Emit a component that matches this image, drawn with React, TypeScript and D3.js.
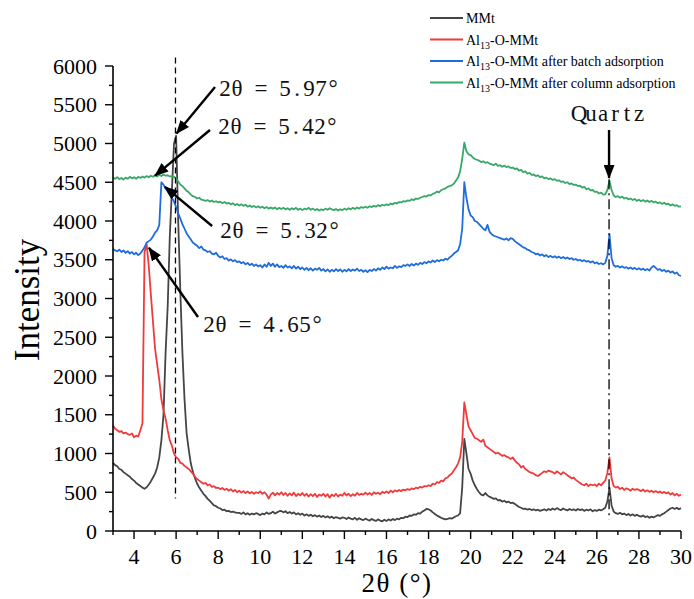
import { Component } from 'react';
import * as d3 from 'd3';

// 2θ sampling grid, 3° to 30° in 0.1° steps
const two_theta = d3.range(271).map((i) => Math.round((3 + i * 0.1) * 10) / 10);

// intensities, one row per degree
const mmt = [
    880, 850, 835, 800, 790, 760, 740, 720, 700, 670,
    650, 620, 600, 580, 560, 545, 565, 600, 640, 690,
    740, 820, 950, 1170, 1500, 2300, 2900, 3800, 4400, 5000,
    5100, 4000, 3100, 2300, 1700, 1260, 1050, 870, 760, 680,
    610, 560, 520, 480, 450, 415, 390, 360, 330, 320,
    300, 290, 270, 275, 255, 260, 245, 250, 240, 235,
    235, 220, 240, 215, 230, 210, 225, 215, 230, 220,
    205, 225, 215, 240, 220, 230, 250, 225, 240, 255,
    260, 240, 255, 230, 245, 225, 240, 215, 230, 210,
    225, 200, 215, 195, 210, 190, 205, 185, 200, 180,
    195, 175, 190, 170, 185, 165, 180, 170, 160, 175,
    170, 155, 175, 160, 150, 170, 145, 165, 150, 140,
    160, 145, 135, 155, 140, 130, 150, 135, 125, 145,
    130, 150, 135, 155, 140, 160, 150, 170, 165, 185,
    180, 200, 195, 215, 210, 230, 225, 250, 265, 285,
    280, 265, 240, 220, 200, 185, 170, 160, 150, 155,
    165, 160, 175, 190, 200, 230, 560, 1190, 1000, 800,
    740, 650, 590, 540, 500, 470, 460, 490, 460, 440,
    430, 415, 420, 395, 400, 380, 390, 370, 380, 360,
    365, 350, 330, 310, 300, 285, 290, 275, 285, 270,
    280, 265, 275, 260, 270, 280, 265, 285, 270, 290,
    275, 295, 280, 270, 290, 275, 265, 285, 270, 280,
    265, 285, 270, 280, 260, 275, 265, 280, 255, 270,
    260, 275, 265, 280, 300, 380, 560, 330, 250, 230,
    220, 235, 215, 225, 205, 220, 200, 215, 195, 210,
    195, 185, 200, 180, 190, 170, 185, 175, 190, 205,
    195, 215, 230, 250, 270, 290, 300, 285, 300, 280,
    295
];

const al13_o_mmt = [
    1360, 1320, 1300, 1280, 1290, 1260, 1270, 1250, 1240, 1260,
    1210, 1230, 1220, 1300, 1390, 3600, 3700, 3420, 3050, 2700,
    2350, 2150, 1950, 1700, 1560, 1450, 1300, 1170, 1100, 1000,
    950, 930, 880, 870, 840, 820, 800, 770, 740, 700,
    670, 650, 630, 610, 620, 590, 600, 570, 580, 555,
    560, 540, 555, 530, 545, 520, 540, 510, 530, 500,
    520, 495, 515, 490, 510, 485, 505, 480, 500, 490,
    510, 480, 500, 470, 420, 470, 495, 460, 490, 470,
    500, 465, 490, 455, 485, 460, 495, 450, 480, 460,
    490, 455, 480, 445, 475, 450, 480, 440, 470, 455,
    480, 445, 475, 430, 470, 450, 480, 445, 470, 455,
    490, 460, 480, 450, 475, 455, 490, 465, 480, 470,
    495, 470, 490, 465, 500, 480, 495, 475, 505, 490,
    510, 490, 520, 500, 525, 510, 530, 515, 535, 525,
    540, 530, 550, 540, 560, 550, 570, 560, 580, 575,
    590, 580, 610, 600, 630, 620, 650, 640, 680, 690,
    720, 740, 780, 820, 870, 950, 1150, 1660, 1500, 1350,
    1300, 1250, 1200, 1190, 1170, 1150, 1180, 1100, 1080, 1060,
    1040, 1020, 1000, 1010, 990, 970, 980, 960, 950, 930,
    950, 910, 880, 860, 820, 840, 800, 780, 760, 750,
    740, 720, 710, 730, 750, 770, 760, 780, 770, 760,
    740, 770, 750, 730, 760, 740, 720, 700, 680, 690,
    660, 640, 620, 600, 590, 610, 580, 600, 590, 600,
    580, 610, 590, 620, 650, 750, 950, 680, 580, 560,
    570, 540, 560, 530, 550, 540, 520, 545, 530, 540,
    530, 515, 535, 510, 525, 505, 520, 500, 515, 495,
    510, 490, 505, 485, 500, 470, 490, 460, 480, 455,
    470
];

const after_batch = [
    3640, 3620, 3610, 3630, 3600, 3620, 3590, 3610, 3580, 3600,
    3570, 3590, 3560, 3580, 3620, 3660, 3720, 3740, 3760, 3800,
    3850, 3880, 3950, 4500, 4470, 4420, 4380, 4340, 4300, 4250,
    4180, 4100, 4030, 3960, 3900, 3840, 3800, 3760, 3720, 3700,
    3680, 3650, 3670, 3630, 3620, 3600, 3610, 3580, 3570, 3590,
    3550, 3530, 3545, 3510, 3520, 3490, 3505, 3480, 3495, 3470,
    3480, 3455, 3470, 3440, 3460, 3430, 3450, 3420, 3440, 3415,
    3430, 3400, 3440, 3410, 3460, 3420, 3450, 3410, 3440, 3405,
    3420, 3395, 3430, 3400, 3415, 3390, 3420, 3385, 3410, 3380,
    3400, 3370, 3395, 3365, 3390, 3360, 3385, 3370, 3395, 3360,
    3380, 3350, 3375, 3345, 3370, 3350, 3380, 3355, 3375, 3345,
    3370, 3350, 3380, 3355, 3375, 3360, 3385, 3355, 3370, 3345,
    3365, 3340, 3370, 3355, 3380, 3360, 3390, 3370, 3400, 3380,
    3410, 3385, 3400, 3390, 3420, 3395, 3415, 3405, 3430, 3420,
    3440, 3420, 3445, 3425, 3450, 3435, 3460, 3445, 3470, 3455,
    3480, 3465, 3490, 3470, 3495, 3480, 3500, 3490, 3515, 3500,
    3530, 3550, 3580, 3600, 3620, 3700, 3900, 4500, 4300, 4150,
    4070, 4050, 4000, 3990, 3960, 3930, 3900, 3880, 3950, 3860,
    3830, 3810, 3800, 3790, 3780, 3770, 3760, 3775, 3750, 3780,
    3770, 3740, 3720, 3700, 3680, 3660, 3650, 3630, 3620, 3600,
    3590, 3570, 3580, 3555, 3570, 3545, 3560, 3535, 3550, 3530,
    3545, 3525, 3540, 3520, 3535, 3515, 3530, 3510, 3520, 3500,
    3510, 3490, 3500, 3480, 3495, 3475, 3485, 3465, 3480, 3455,
    3465, 3445, 3455, 3440, 3460, 3550, 3830, 3520, 3430, 3410,
    3420, 3400, 3415, 3395, 3405, 3385, 3400, 3380, 3395, 3375,
    3390, 3370, 3385, 3365, 3380, 3360, 3400, 3420, 3395, 3370,
    3380, 3355, 3370, 3345, 3360, 3335, 3350, 3320, 3335, 3300,
    3290
];

const after_column = [
    4560, 4545, 4565, 4540, 4555, 4535, 4560, 4545, 4570, 4550,
    4565, 4545, 4570, 4555, 4575, 4560, 4580, 4565, 4585, 4570,
    4590, 4575, 4595, 4580, 4600, 4585, 4590, 4575, 4580, 4570,
    4550, 4510, 4470, 4450, 4420, 4390, 4370, 4340, 4320, 4310,
    4290, 4300, 4275, 4270, 4260, 4270, 4250, 4265, 4245, 4255,
    4240, 4250, 4230, 4245, 4225, 4235, 4215, 4230, 4205, 4220,
    4200, 4215, 4195, 4210, 4185, 4200, 4180, 4195, 4175, 4190,
    4170, 4185, 4165, 4180, 4160, 4175, 4160, 4175, 4150, 4170,
    4155, 4170, 4150, 4165, 4145, 4165, 4150, 4170, 4145, 4160,
    4140, 4160, 4150, 4170, 4145, 4160, 4140, 4155, 4135, 4150,
    4140, 4160, 4145, 4165, 4150, 4140, 4155, 4135, 4150, 4140,
    4160, 4145, 4165, 4150, 4170, 4155, 4175, 4160, 4180, 4170,
    4185, 4170, 4190, 4180, 4195, 4185, 4205, 4190, 4210, 4200,
    4215, 4205, 4225, 4215, 4235, 4225, 4245, 4240, 4255, 4250,
    4265, 4260, 4280, 4270, 4290, 4285, 4300, 4310, 4320, 4315,
    4335, 4330, 4350, 4360, 4380, 4370, 4400, 4410, 4420, 4440,
    4450, 4460, 4480, 4520, 4560, 4640, 4800, 5010, 4900, 4860,
    4850, 4820, 4800, 4790, 4780, 4760, 4770, 4750, 4760, 4740,
    4730, 4720, 4740, 4710, 4720, 4700, 4715, 4695, 4705, 4685,
    4690, 4670, 4680, 4650, 4660, 4630, 4640, 4610, 4620, 4595,
    4600, 4580, 4590, 4565, 4575, 4550, 4560, 4540, 4550, 4530,
    4540, 4520, 4525, 4505, 4510, 4490, 4500, 4475, 4485, 4465,
    4470, 4450, 4455, 4430, 4440, 4410, 4420, 4395, 4400, 4375,
    4380, 4355, 4365, 4340, 4345, 4400, 4520, 4400, 4330, 4310,
    4320, 4300, 4315, 4290, 4300, 4280, 4290, 4270, 4285, 4260,
    4275, 4255, 4270, 4250, 4265, 4245, 4260, 4240, 4250, 4230,
    4240, 4220, 4235, 4215, 4225, 4200, 4215, 4195, 4205, 4185,
    4190
];

// legend names: [main text, subscript, rest]
const series_names = [
    ["MMt", "", ""],
    ["Al", "13", "-O-MMt"],
    ["Al", "13", "-O-MMt after batch adsorption"],
    ["Al", "13", "-O-MMt after column adsorption"]
];

const x_ticks = [4, 6, 8, 10, 12, 14, 16, 18, 20, 22, 24, 26, 28, 30];
const y_ticks = [0, 500, 1000, 1500, 2000, 2500, 3000, 3500, 4000, 4500, 5000, 5500, 6000];

const peak_labels = ["2θ = 5.97°", "2θ = 5.42°", "2θ = 5.32°", "2θ = 4.65°"];
const quartz_label = "Quartz";
const quartz_position = 26.58;
const mmt_peak_position = 5.97;


export default class App extends Component {

    svg_node = null;

    componentDidMount() {
        this.renderChart();
    }

    renderChart() {

        // constants
        const width = 694;
        const height = 599;
        const left = 113;
        const right = 681;
        const top = 66;
        const bottom = 531;
        const serif = "'Liberation Serif', 'Times New Roman', serif";

        const colors = ["#454545", "#ef3b3c", "#1f6cdb", "#38a869"];
        const all_series = [mmt, al13_o_mmt, after_batch, after_column];

        let svg = d3.select(this.svg_node)
            .attr("width", width)
            .attr("height", height);
        svg.selectAll("*").remove();

        // scales
        const x_scale = d3.scaleLinear().domain([3, 30]).range([left, right]);
        const y_scale = d3.scaleLinear().domain([0, 6000]).range([bottom, top]);

        // arrow head
        svg.append("defs").append("marker")
            .attr("id", "arrow-head")
            .attr("markerUnits", "userSpaceOnUse")
            .attr("markerWidth", 14)
            .attr("markerHeight", 11)
            .attr("refX", 13)
            .attr("refY", 5.5)
            .attr("orient", "auto")
            .append("path")
            .attr("d", "M0,0 L14,5.5 L0,11 Z")
            .attr("fill", "#000");

        // curves
        const line = d3.line()
            .x(function(d) { return x_scale(d[0]); })
            .y(function(d) { return y_scale(d[1]); });

        all_series.forEach(function(values, i) {
            const points = two_theta.map(function(t, j) { return [t, values[j]]; });
            svg.append("path")
                .datum(points)
                .attr("d", line)
                .attr("fill", "none")
                .attr("stroke", colors[i])
                .attr("stroke-width", 1.8)
                .attr("stroke-linejoin", "round");
        });

        // dashed reference line at the MMt peak
        svg.append("line")
            .attr("x1", x_scale(mmt_peak_position))
            .attr("x2", x_scale(mmt_peak_position))
            .attr("y1", y_scale(6110))
            .attr("y2", y_scale(420))
            .attr("stroke", "#000")
            .attr("stroke-width", 1.3)
            .attr("stroke-dasharray", "6,4");

        // quartz dash-dot line
        svg.append("line")
            .attr("x1", x_scale(quartz_position))
            .attr("x2", x_scale(quartz_position))
            .attr("y1", y_scale(4540))
            .attr("y2", y_scale(150))
            .attr("stroke", "#000")
            .attr("stroke-width", 1.3)
            .attr("stroke-dasharray", "10,4,2,4");

        // annotation arrows, [tail, tip] in data units
        const arrows = [
            [[7.85, 5729], [6.02, 5130]],
            [[7.61, 5174], [5.0, 4585]],
            [[7.71, 3935], [5.47, 4440]],
            [[7.04, 2761], [4.71, 3655]],
            [[quartz_position, 5174], [quartz_position, 4555]]
        ];
        arrows.forEach(function(a) {
            svg.append("line")
                .attr("x1", x_scale(a[0][0]))
                .attr("y1", y_scale(a[0][1]))
                .attr("x2", x_scale(a[1][0]))
                .attr("y2", y_scale(a[1][1]))
                .attr("stroke", "#000")
                .attr("stroke-width", 2.4)
                .attr("marker-end", "url(#arrow-head)");
        });

        // annotation labels, each glyph centred in a 12px cell like the original half-width font
        const label_spots = [[8.04, 5613], [7.99, 5123], [8.09, 3781], [7.28, 2568]];
        const drawMono = function(text, x0, y0) {
            const chars = Array.from(text);
            svg.append("text")
                .attr("x", chars.map(function(c, k) { return x0 + 6 + k * 12; }).join(" "))
                .attr("y", y0)
                .attr("text-anchor", "middle")
                .attr("font-family", serif)
                .attr("font-size", 23)
                .attr("fill", "#111")
                .text(text);
        };
        peak_labels.forEach(function(label, i) {
            drawMono(label, x_scale(label_spots[i][0]), y_scale(label_spots[i][1]));
        });
        drawMono(quartz_label, x_scale(quartz_position) - 36, y_scale(5290));

        // x axis
        const x_axis = svg.append("g").attr("class", "x axis");
        x_axis.append("line")
            .attr("x1", left).attr("x2", right)
            .attr("y1", bottom).attr("y2", bottom)
            .attr("stroke", "#000").attr("stroke-width", 1.6);
        d3.range(3, 31).forEach(function(v) {
            const is_major = v % 2 === 0;
            x_axis.append("line")
                .attr("x1", x_scale(v)).attr("x2", x_scale(v))
                .attr("y1", bottom).attr("y2", bottom + (is_major ? 8 : 4))
                .attr("stroke", "#000").attr("stroke-width", 1.4);
        });
        x_axis.selectAll(".tick-label")
            .data(x_ticks).enter()
            .append("text")
            .attr("x", function(d) { return x_scale(d); })
            .attr("y", bottom + 33)
            .attr("text-anchor", "middle")
            .attr("font-family", serif)
            .attr("font-size", 22)
            .text(function(d) { return d; });

        // y axis
        const y_axis = svg.append("g").attr("class", "y axis");
        y_axis.append("line")
            .attr("x1", left).attr("x2", left)
            .attr("y1", top).attr("y2", bottom)
            .attr("stroke", "#000").attr("stroke-width", 1.6);
        d3.range(0, 6001, 250).forEach(function(v) {
            const is_major = v % 500 === 0;
            y_axis.append("line")
                .attr("x1", left - (is_major ? 8 : 4)).attr("x2", left)
                .attr("y1", y_scale(v)).attr("y2", y_scale(v))
                .attr("stroke", "#000").attr("stroke-width", 1.4);
        });
        y_axis.selectAll(".tick-label")
            .data(y_ticks).enter()
            .append("text")
            .attr("x", left - 16)
            .attr("y", function(d) { return y_scale(d); })
            .attr("dy", "0.35em")
            .attr("text-anchor", "end")
            .attr("font-family", serif)
            .attr("font-size", 22)
            .text(function(d) { return d; });

        // axis titles
        svg.append("text")
            .attr("x", (left + right) / 2)
            .attr("y", 592)
            .attr("text-anchor", "middle")
            .attr("font-family", serif)
            .attr("font-size", 27)
            .attr("letter-spacing", 1.5)
            .text("2θ (°)");

        svg.append("text")
            .attr("transform", "translate(39, 300) rotate(-90)")
            .attr("text-anchor", "middle")
            .attr("font-family", serif)
            .attr("font-size", 35)
            .text("Intensity");

        // legend
        const legend = svg.append("g").attr("class", "legend");
        series_names.forEach(function(name, i) {
            const ly = 18 + i * 21.5;
            legend.append("line")
                .attr("x1", 430).attr("x2", 463)
                .attr("y1", ly).attr("y2", ly)
                .attr("stroke", colors[i])
                .attr("stroke-width", 2);
            const t = legend.append("text")
                .attr("x", 466)
                .attr("y", ly + 5)
                .attr("font-family", serif)
                .attr("font-size", 14);
            t.append("tspan").text(name[0]);
            if (name[1]) {
                t.append("tspan").attr("dy", 4).attr("font-size", 10).text(name[1]);
                t.append("tspan").attr("dy", -4).text(name[2]);
            }
        });
    }

    render() {
        return (
            <svg
                ref={(node) => { this.svg_node = node; }}
                style={{ position: "absolute", left: 0, top: 0, background: "#fff" }}
            />
        );
    }

}
